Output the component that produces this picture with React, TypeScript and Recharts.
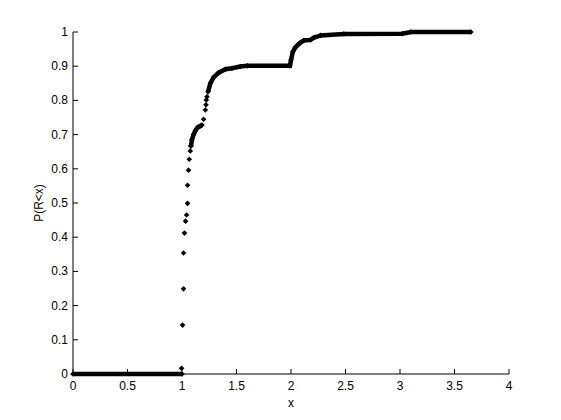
import { ScatterChart, Scatter, XAxis, YAxis } from 'recharts';

const X_TICKS = [0, 0.5, 1, 1.5, 2, 2.5, 3, 3.5, 4];
const Y_TICKS = [0, 0.1, 0.2, 0.3, 0.4, 0.5, 0.6, 0.7, 0.8, 0.9, 1];

// below x = 1 every sample sits at zero (drawn as a solid run of markers)
const zeroX = [0, 1.0];
const zeroY = [0, 0];

// isolated samples on the jump just above 1
const jumpX = [0.996, 1.005, 1.014, 1.014, 1.023, 1.033, 1.042, 1.051, 1.051, 1.06, 1.067, 1.076, 1.082];
const jumpY = [0.017, 0.143, 0.249, 0.354, 0.412, 0.447, 0.465, 0.499, 0.552, 0.596, 0.628, 0.652, 0.667];

// dense shoulder around 0.7
const shoulderX = [1.082, 1.091, 1.106, 1.122, 1.143, 1.168, 1.183];
const shoulderY = [0.667, 0.685, 0.7, 0.711, 0.721, 0.725, 0.728];

// sparse samples between the shoulder and the plateau
const gapX = [1.198, 1.214, 1.22, 1.223, 1.229];
const gapY = [0.745, 0.772, 0.787, 0.801, 0.811];

// dense tail up to the last sample
const tailX = [1.239, 1.26, 1.29, 1.336, 1.398, 1.459, 1.536, 1.6, 1.99, 2.0, 2.017, 2.04, 2.072, 2.087, 2.118, 2.179, 2.207, 2.271, 2.485, 3.02, 3.1, 3.65];
const tailY = [0.825, 0.85, 0.867, 0.881, 0.891, 0.894, 0.899, 0.901, 0.901, 0.918, 0.942, 0.955, 0.965, 0.969, 0.975, 0.977, 0.983, 0.99, 0.994, 0.995, 1.0, 1.0];

const toPoints = (xs: number[], ys: number[]) => xs.map((x, i) => ({ x, y: ys[i] }));

const FONT = 'Liberation Sans, Arial, sans-serif';

const Diamond = (props: any) => {
  const { cx, cy } = props;
  if (cx == null || cy == null) return <g />;
  const r = 2.8;
  return (
    <polygon
      points={`${cx},${cy - r} ${cx + r},${cy} ${cx},${cy + r} ${cx - r},${cy}`}
      fill="#000"
    />
  );
};

// MATLAB style: ticks point into the axes
const XTick = (props: any) => {
  const { x, y, payload } = props;
  return (
    <g>
      <line x1={x} x2={x} y1={y} y2={y - 5} stroke="#000" />
      <text x={x} y={y + 16} textAnchor="middle" fontSize={12} fontFamily={FONT} fill="#000">
        {String(payload.value)}
      </text>
    </g>
  );
};

const YTick = (props: any) => {
  const { x, y, payload } = props;
  return (
    <g>
      <line x1={x} x2={x + 5} y1={y} y2={y} stroke="#000" />
      <text x={x - 5} y={y + 4} textAnchor="end" fontSize={12} fontFamily={FONT} fill="#000">
        {String(payload.value)}
      </text>
    </g>
  );
};

export default function App() {
  const denseLine = { stroke: '#000', strokeWidth: 4.5 };

  return (
    <div style={{ position: 'absolute', left: 0, top: 0, width: 561, height: 420, background: '#fff' }}>
      <ScatterChart width={561} height={420} margin={{ top: 32, right: 52, bottom: 22, left: 0 }}>
        <XAxis
          type="number"
          dataKey="x"
          domain={[0, 4]}
          ticks={X_TICKS}
          height={24}
          tickSize={0}
          tickMargin={0}
          tickLine={false}
          axisLine={{ stroke: '#000' }}
          tick={<XTick />}
          label={{ value: 'x', position: 'bottom', offset: 0, fontSize: 12, fontFamily: FONT, fill: '#000' }}
        />
        <YAxis
          type="number"
          dataKey="y"
          domain={[0, 1]}
          ticks={Y_TICKS}
          width={73}
          tickSize={0}
          tickMargin={0}
          tickLine={false}
          axisLine={{ stroke: '#000' }}
          tick={<YTick />}
          label={{
            value: 'P(R<x)',
            angle: -90,
            position: 'insideLeft',
            offset: 39,
            textAnchor: 'middle',
            fontSize: 12,
            fontFamily: FONT,
            fill: '#000',
          }}
        />
        <Scatter data={toPoints(zeroX, zeroY)} line={denseLine} shape={<Diamond />} isAnimationActive={false} />
        <Scatter data={toPoints(shoulderX, shoulderY)} line={denseLine} shape={<Diamond />} isAnimationActive={false} />
        <Scatter data={toPoints(tailX, tailY)} line={denseLine} shape={<Diamond />} isAnimationActive={false} />
        <Scatter data={toPoints(jumpX, jumpY)} shape={<Diamond />} isAnimationActive={false} />
        <Scatter data={toPoints(gapX, gapY)} shape={<Diamond />} isAnimationActive={false} />
      </ScatterChart>
    </div>
  );
}
